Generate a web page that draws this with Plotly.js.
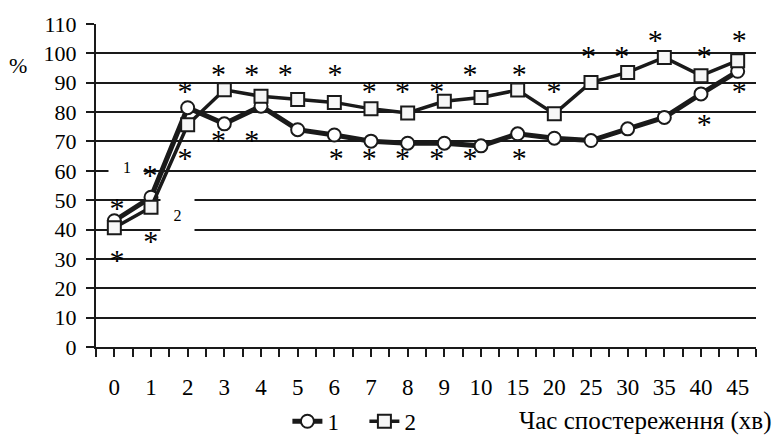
<!DOCTYPE html>
<html>
<head>
<meta charset="utf-8">
<script src="https://cdn.plot.ly/plotly-3.0.1.min.js"></script>
<style>
html,body{margin:0;padding:0;background:#fff;}
#chart{width:774px;height:437px;}
#chart svg text{font-family:'Liberation Serif' !important;}
</style>
</head>
<body>
<div id="chart"></div>
<script>
// Categories (observation time, min)
const categories = ['0','1','2','3','4','5','6','7','8','9','10','15','20','25','30','35','40','45'];
// Series values (%)
const series1 = [43, 51, 81.5, 76, 82, 74, 72.2, 70.1, 69.4, 69.4, 68.5, 72.6, 71.1, 70.3, 74.3, 78.2, 86.2, 93.9];
const series2 = [40.6, 47.6, 75.7, 87.6, 85.4, 84.3, 83.3, 81.1, 79.7, 83.7, 85, 87.5, 79.4, 90.1, 93.5, 98.6, 92.4, 97.5];
// Significance asterisks: position (in category units) and value level
const starPos = [0.07, 0.07, 0.97, 0.99, 1.93, 1.93, 2.84, 2.84, 3.75, 3.75, 4.66, 6.02, 6.05, 6.95, 6.95, 7.86, 7.86, 8.79, 8.79, 9.70, 9.70, 11.04, 11.04, 11.99, 12.93, 13.84, 14.75, 16.09, 16.09, 17.04, 17.04];
const starVal = [48.2, 30.6, 59.5, 36.9, 88.2, 65.2, 93.9, 71.2, 93.9, 71.2, 93.9, 93.9, 65.2, 88.2, 65.2, 88.2, 65.2, 88.2, 65.2, 93.9, 65.2, 93.9, 65.2, 88.2, 99.8, 99.8, 105.4, 99.8, 76.9, 105.4, 87.9];
const yTicks = [0,10,20,30,40,50,60,70,80,90,100,110];
const gridVals = [10,20,30,40,50,60,70,80,90,100];
const seriesNames = ['1','2'];

const xIdx = categories.map((c, i) => i);
const FONT = 'Liberation Serif';
const INK = '#1a1a1a';
// the '*' glyph sits above its text box centre; this shifts the text anchor so the glyph centre lands on the value
const STAR_GLYPH_SHIFT = -1.7;

const traces = [
  {
    x: xIdx, y: series1, name: seriesNames[0], type: 'scatter', mode: 'lines+markers',
    line: {color: INK, width: 5},
    marker: {symbol: 'circle', size: 13, color: '#ffffff', line: {color: INK, width: 2}}
  },
  {
    x: xIdx, y: series2, name: seriesNames[1], type: 'scatter', mode: 'lines+markers',
    line: {color: INK, width: 3.5},
    marker: {symbol: 'square', size: 13, color: '#f6f6f6', line: {color: INK, width: 2}}
  },
  {
    x: starPos, y: starVal.map(v => v + STAR_GLYPH_SHIFT), type: 'scatter', mode: 'text', showlegend: false, hoverinfo: 'skip',
    text: starPos.map(() => '*'), textposition: 'middle center',
    textfont: {family: FONT, size: 30, color: '#000'}
  },
  {x: [0], y: [0], yaxis: 'y2', type: 'scatter', mode: 'markers', marker: {opacity: 0}, showlegend: false, hoverinfo: 'skip'}
];

const layout = {
  width: 774, height: 437,
  margin: {l: 96, r: 18, t: 24, b: 90, autoexpand: false},
  paper_bgcolor: '#fff', plot_bgcolor: 'rgba(0,0,0,0)',
  font: {family: FONT, size: 21, color: '#000'},
  showlegend: true,
  legend: {orientation: 'h', x: 0.29, y: -0.23, xanchor: 'left', yanchor: 'middle',
           font: {family: FONT, size: 23, color: '#000'}, itemwidth: 30, entrywidth: 32, entrywidthmode: 'pixels',
           tracegroupgap: 0, bgcolor: 'rgba(0,0,0,0)'},
  xaxis: {
    range: [-0.5, 17.5], tickvals: xIdx, ticktext: categories,
    showgrid: false, zeroline: false,
    showline: true, linecolor: INK, linewidth: 2,
    ticks: 'outside', ticklen: 8, tickwidth: 2, tickcolor: INK,
    ticklabelstandoff: 10,
    minor: {tick0: -0.5, dtick: 1, ticks: 'outside', ticklen: 8, tickwidth: 2, tickcolor: INK, showgrid: false},
    tickfont: {family: FONT, size: 23, color: '#000'}, fixedrange: true
  },
  yaxis: {
    range: [0, 110], tickvals: yTicks, showgrid: false, zeroline: false,
    showline: true, linecolor: INK, linewidth: 2,
    ticks: 'outside', ticklen: 8, tickwidth: 2, tickcolor: INK,
    ticklabelstandoff: 5,
    tickfont: {family: FONT, size: 22, color: '#000'}, fixedrange: true
  },
  yaxis2: {
    overlaying: 'y', range: [0, 110], tickvals: gridVals, showgrid: true, gridcolor: INK, gridwidth: 2,
    showticklabels: false, ticks: '', showline: false, zeroline: false, fixedrange: true
  },
  annotations: [
    {xref: 'paper', yref: 'paper', x: -0.118, y: 0.87, text: '%', showarrow: false,
     font: {family: FONT, size: 22}, xanchor: 'center', yanchor: 'middle'},
    {xref: 'x', yref: 'y', x: -0.17, y: 60, text: ' ', showarrow: false, xanchor: 'left', yanchor: 'middle',
     width: 34, height: 12, bgcolor: '#fff', borderpad: 0},
    {xref: 'x', yref: 'y', x: 0.35, y: 61, text: '1', showarrow: false, xanchor: 'center', yanchor: 'middle',
     font: {family: FONT, size: 16}},
    {xref: 'x', yref: 'y', x: 1.245, y: 45, text: '2', showarrow: false, xanchor: 'left', yanchor: 'middle',
     width: 33, height: 36, bgcolor: '#fff', borderpad: 0, align: 'center', font: {family: FONT, size: 16}},
    {xref: 'paper', yref: 'paper', x: 1.027, y: -0.23, text: 'Час спостереження (хв)', showarrow: false,
     xanchor: 'right', yanchor: 'middle', font: {family: FONT, size: 25}}
  ]
};

Plotly.newPlot('chart', traces, layout, {staticPlot: true, displayModeBar: false});
</script>
</body>
</html>
